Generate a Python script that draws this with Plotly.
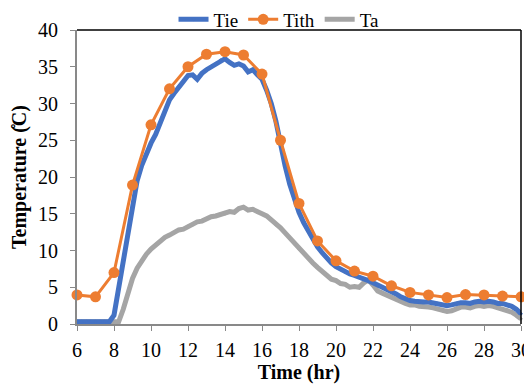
import plotly.graph_objects as go

# Hourly Tith readings
t_hour = [6, 7, 8, 9, 10, 11, 12, 13, 14, 15, 16, 17, 18, 19, 20, 21, 22, 23, 24, 25, 26, 27, 28, 29, 30]
tith = [3.95, 3.7, 7.0, 18.9, 27.1, 32.0, 35.0, 36.7, 37.05, 36.6, 34.0, 25.0, 16.4, 11.3, 8.6, 7.2,
        6.5, 5.2, 4.3, 3.95, 3.6, 4.0, 3.95, 3.8, 3.7]

# quarter-hour sampling grid for Tie and Ta
t_fine = [6 + 0.25 * i for i in range(97)]

tie = [0.3, 0.3, 0.3, 0.3, 0.3, 0.3, 0.3, 0.3,
       1.2, 4.8, 8.6, 12.4,
       16.2, 19.5, 21.6, 23.2,
       24.6, 25.8, 27.3, 29.0,
       30.5, 31.4, 32.3, 33.0,
       33.8, 33.9, 33.3, 34.1,
       34.6, 35.0, 35.4, 35.9,
       36.1, 35.6, 35.2, 35.4,
       35.1, 34.3, 34.6, 33.9,
       33.3, 31.8, 30.0, 27.6,
       24.4, 21.5, 19.0, 16.9,
       15.2, 13.8, 12.6, 11.5,
       10.5, 9.7, 8.9, 8.3,
       7.8, 7.4, 7.1, 6.8,
       6.6, 6.4, 6.1, 5.9,
       5.6, 5.3, 5.0, 4.8,
       4.5, 4.1, 3.7, 3.4,
       3.2, 3.1, 3.0, 3.0,
       3.0, 2.9, 2.8, 2.6,
       2.5, 2.6, 2.8, 2.9,
       2.9, 2.8, 3.0, 3.1,
       3.0, 3.1, 3.0, 2.8,
       2.8, 2.6, 2.4, 2.0,
       1.4]

ta = [0.3, 0.3, 0.3, 0.3, 0.3, 0.3, 0.3, 0.3, 0.3, 0.3,
      2.0, 4.2,
      6.2, 7.6, 8.7, 9.5,
      10.2, 10.8, 11.3, 11.8,
      12.1, 12.4, 12.8, 12.9,
      13.3, 13.5, 13.9, 14.0,
      14.3, 14.6, 14.7, 14.9,
      15.0, 15.3, 15.2, 15.7,
      15.9, 15.5, 15.6, 15.2,
      15.0, 14.7, 14.2, 13.5,
      13.1, 12.4, 11.7, 11.0,
      10.2, 9.7, 9.0, 8.3,
      7.7, 7.2, 6.6, 6.1,
      5.9, 5.5, 5.4, 5.0,
      5.1, 5.0, 5.6, 6.0,
      5.3, 4.5, 4.2, 3.9,
      3.6, 3.4, 3.1, 2.8,
      2.6, 2.6, 2.4, 2.4,
      2.3, 2.2, 2.0, 1.8,
      1.7, 1.8, 2.1, 2.3,
      2.3, 2.2, 2.4, 2.5,
      2.4, 2.5, 2.4, 2.2,
      2.1, 1.9, 1.6, 1.2,
      0.7]

x_ticks = [6, 8, 10, 12, 14, 16, 18, 20, 22, 24, 26, 28, 30]
y_ticks = [0, 5, 10, 15, 20, 25, 30, 35, 40]

FONT = "Liberation Serif, Times New Roman, serif"
AXIS_GRAY = "#898989"

fig = go.Figure()
fig.add_trace(go.Scatter(x=t_fine, y=ta, name="Ta", mode="lines+markers", legendrank=3,
                         line=dict(color="#A5A5A5", width=5),
                         marker=dict(size=3, color="#A5A5A5", symbol="diamond"),
                         cliponaxis=False))
fig.add_trace(go.Scatter(x=t_fine, y=tie, name="Tie", mode="lines+markers", legendrank=1,
                         line=dict(color="#4472C4", width=5),
                         marker=dict(size=3, color="#4472C4", symbol="diamond"),
                         cliponaxis=False))
fig.add_trace(go.Scatter(x=t_hour, y=tith, name="Tith", mode="lines+markers", legendrank=2,
                         line=dict(color="#ED7D31", width=3),
                         marker=dict(size=11, color="#ED7D31"),
                         cliponaxis=False))

# The page adds an 8px body margin, so the figure is sized/offset to compensate.
fig.update_layout(
    width=524, height=378,
    margin=dict(l=69, r=11, t=22, b=62, autoexpand=False),
    paper_bgcolor="white", plot_bgcolor="white",
    font=dict(family=FONT, size=20, color="black"),
    showlegend=True,
    legend=dict(orientation="h", x=0.455, xanchor="center", y=1.036, yanchor="middle",
                font=dict(size=19), tracegroupgap=0,
                bgcolor="rgba(0,0,0,0)", borderwidth=0),
    xaxis=dict(range=[6, 30], tickvals=x_ticks, ticktext=[str(v) for v in x_ticks],
               showgrid=False, zeroline=False, showline=True, linecolor=AXIS_GRAY, linewidth=2,
               ticks="outside", ticklen=5, tickcolor=AXIS_GRAY, tickwidth=1,
               ticklabelstandoff=2,
               title=dict(text="<b>Time (hr)</b>", font=dict(size=20), standoff=2)),
    yaxis=dict(range=[0, 40], tickvals=y_ticks, ticktext=[str(v) for v in y_ticks],
               showgrid=False, zeroline=False, showline=True, linecolor=AXIS_GRAY, linewidth=2,
               ticks="outside", ticklen=5, tickcolor=AXIS_GRAY, tickwidth=1,
               ticklabelstandoff=8,
               title=dict(text="<b>Temperature (\u030aC)</b>", font=dict(size=20), standoff=6)),
)
# top and right black frame
fig.add_shape(type="line", xref="paper", yref="paper", x0=0, x1=1, y0=1, y1=1,
              line=dict(color="black", width=1.5))
fig.add_shape(type="line", xref="paper", yref="paper", x0=1, x1=1, y0=0, y1=1,
              line=dict(color="black", width=1.5))

fig.write_html("out.html")
